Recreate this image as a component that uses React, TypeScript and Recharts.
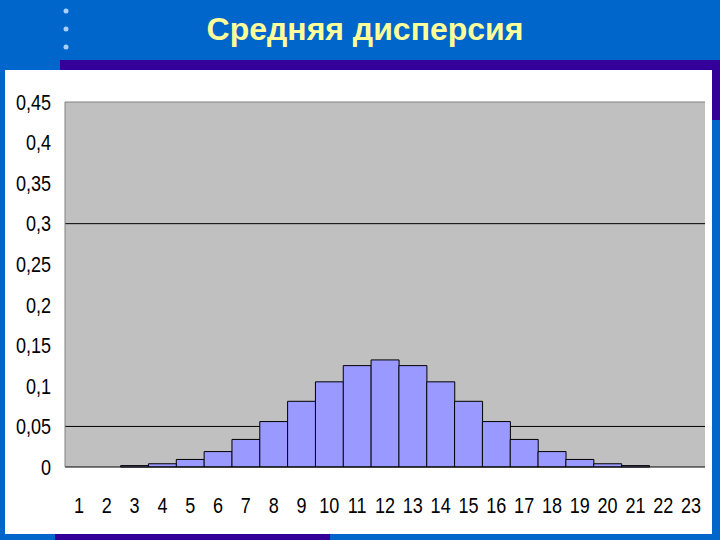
import { Bar, BarChart, CartesianGrid, XAxis, YAxis } from "recharts";

const categories = [
  "1", "2", "3", "4", "5", "6", "7", "8", "9", "10", "11", "12",
  "13", "14", "15", "16", "17", "18", "19", "20", "21", "22", "23",
];
const dispersion = [
  0, 0, 0.0017, 0.004, 0.0093, 0.019, 0.034, 0.056, 0.081, 0.105, 0.125, 0.132,
  0.125, 0.105, 0.081, 0.056, 0.034, 0.019, 0.0093, 0.004, 0.0017, 0, 0,
];
const yTicks = [0, 0.05, 0.1, 0.15, 0.2, 0.25, 0.3, 0.35, 0.4, 0.45];
const gridValues = [0.05, 0.3];

const data = categories.map((name, i) => ({ name, value: dispersion[i] }));

const FONT = "'Liberation Sans', Arial, sans-serif";

// narrow, Arial Narrow-like tick labels
function NarrowTick(props: any) {
  const { x, y, payload, anchor, dy, formatter } = props;
  const label = formatter ? formatter(payload.value) : payload.value;
  return (
    <g transform={`translate(${x},${y})`}>
      <text
        transform="scale(0.82,1)"
        textAnchor={anchor}
        dy={dy}
        fill="#000000"
        fontSize={22}
        fontFamily={FONT}
      >
        {label}
      </text>
    </g>
  );
}

const formatComma = (v: number) => String(v).replace(".", ",");

export default function App() {
  return (
    <div
      style={{
        position: "fixed",
        left: 0,
        top: 0,
        width: 720,
        height: 540,
        background: "#0066cc",
        overflow: "hidden",
      }}
    >
      {/* slide decorations */}
      <svg width={720} height={540} style={{ position: "absolute", left: 0, top: 0 }}>
        <circle cx={66} cy={11} r={2.5} fill="#a8d0ff" />
        <circle cx={66} cy={29} r={2.5} fill="#a8d0ff" />
        <circle cx={66} cy={47} r={2.5} fill="#a8d0ff" />
        <rect x={60} y={60} width={660} height={11} fill="#330099" />
        <rect x={712} y={60} width={8} height={60} fill="#330099" />
        <rect x={55} y={534} width={275} height={6} fill="#330099" />
        <rect x={5} y={70} width={707} height={464} fill="#ffffff" />
      </svg>
      <div
        style={{
          position: "absolute",
          left: 0,
          top: 10,
          width: 730,
          textAlign: "center",
          color: "#ffff99",
          fontFamily: FONT,
          fontWeight: "bold",
          fontSize: 32,
          lineHeight: "38px",
        }}
      >
        Средняя дисперсия
      </div>
      <div style={{ position: "absolute", left: 5, top: 70 }}>
        <BarChart
          width={707}
          height={464}
          data={data}
          margin={{ top: 32, right: 7, left: 0, bottom: 0 }}
          barCategoryGap={0}
        >
          <CartesianGrid
            vertical={false}
            horizontalValues={gridValues}
            stroke="#000000"
            fill="#c0c0c0"
            fillOpacity={1}
          />
          <CartesianGrid vertical={false} horizontalValues={[0.45]} stroke="#808080" />
          <XAxis
            dataKey="name"
            height={67}
            tickSize={0}
            tickMargin={30}
            axisLine={{ stroke: "#000000" }}
            interval={0}
            tick={<NarrowTick anchor="middle" dy="0.71em" />}
          />
          <YAxis
            width={60}
            domain={[0, 0.45]}
            ticks={yTicks}
            interval={0}
            tickSize={0}
            tickMargin={14}
            axisLine={{ stroke: "#808080" }}
            tick={<NarrowTick anchor="end" dy="0.355em" formatter={formatComma} />}
          />
          <Bar
            dataKey="value"
            fill="#9999ff"
            stroke="#000000"
            strokeWidth={1}
            isAnimationActive={false}
          />
        </BarChart>
      </div>
    </div>
  );
}
